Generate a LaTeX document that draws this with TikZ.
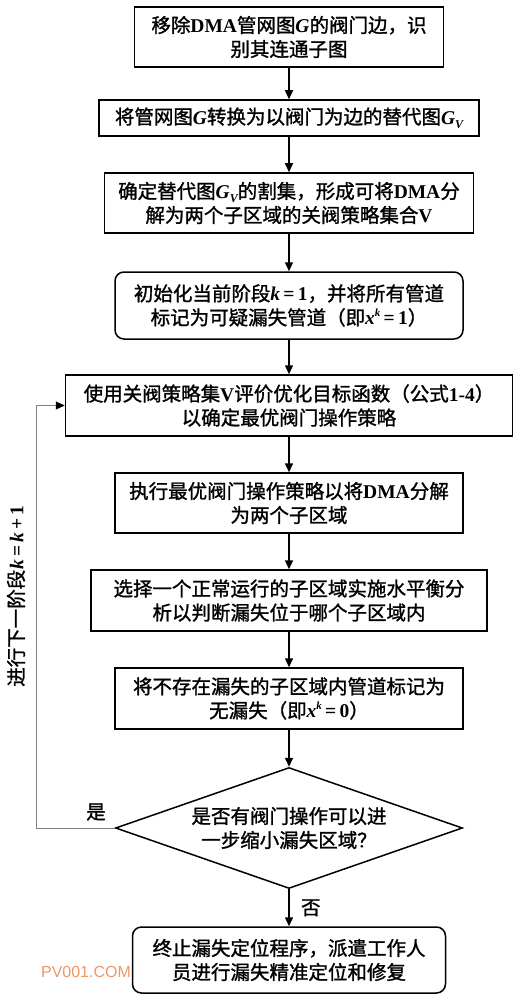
\documentclass[tikz,border=0pt]{standalone}
\usepackage{fontspec}
\newfontfamily\cjk[FakeBold=1.3]{Noto Sans CJK SC}
\newfontfamily\lat{Liberation Serif}
\newfontfamily\wmfont{Liberation Sans}
\newcommand\lt[1]{{\lat\bfseries #1}}
\newcommand\iv[1]{{\lat\bfseries\itshape #1}}
\newcommand\subv{\raisebox{-0.4ex}{\fontsize{12}{12}\selectfont\iv{V}}}
\newcommand\supk{\raisebox{0.75ex}{\fontsize{11}{11}\selectfont\iv{k}}}
\usetikzlibrary{shapes.geometric,arrows.meta}
\tikzset{
  txt/.style={font={\cjk\fontsize{19.5}{24}\selectfont}},
  box/.style={txt, draw, line width=1.5pt, inner sep=0pt, align=center},
  rbox/.style={box, rounded corners=9pt},
  dec/.style={txt, draw, line width=1.5pt, shape=diamond, aspect=2.87, inner sep=0pt, align=center, minimum width=347pt, minimum height=121pt},
  arr/.style={line width=1.5pt, -{Triangle[length=9pt,width=8pt]}},
  fb/.style={line width=1pt, draw=black!50, -{Triangle[length=9pt,width=8pt,color=black]}},
}
\begin{document}
\begin{tikzpicture}[x=1pt,y=-1pt]
\useasboundingbox (0,0) rectangle (517,1000);
\node[box, minimum width=309pt, minimum height=60pt] (b1) at (289,37) {移除\lt{DMA}管网图\iv{G}的阀门边，识\\别其连通子图};
\node[box, minimum width=380pt, minimum height=36pt] (b2) at (289,118) {将管网图\iv{G}转换为以阀门为边的替代图\iv{G}\subv};
\node[box, minimum width=369pt, minimum height=60pt] (b3) at (289,203) {确定替代图\iv{G}\subv 的割集，形成可将\lt{DMA}分\\解为两个子区域的关阀策略集合\lt{V}};
\node[rbox, minimum width=348pt, minimum height=67pt] (b4) at (289,305.5) {初始化当前阶段\iv{k}\lt{\,=\,1}，并将所有管道\\标记为可疑漏失管道（即\iv{x}\supk\lt{\,=\,1}）};
\node[box, minimum width=447pt, minimum height=61pt] (b5) at (289,405.5) {使用关阀策略集\lt{V}评价优化目标函数（公式\lt{1-4}）\\以确定最优阀门操作策略};
\node[box, minimum width=348pt, minimum height=60pt] (b6) at (289,503) {执行最优阀门操作策略以将\lt{DMA}分解\\为两个子区域};
\node[box, minimum width=396pt, minimum height=61pt] (b7) at (289,600.5) {选择一个正常运行的子区域实施水平衡分\\析以判断漏失位于哪个子区域内};
\node[box, minimum width=348pt, minimum height=61pt] (b8) at (289,698.5) {将不存在漏失的子区域内管道标记为\\无漏失（即\iv{x}\supk\lt{\,=\,0}）};
\node[dec] (d) at (289,828) {是否有阀门操作可以进\\一步缩小漏失区域？};
\node[rbox, minimum width=313pt, minimum height=66pt] (b9) at (289,960) {终止漏失定位程序，派遣工作人\\员进行漏失精准定位和修复};

\draw[arr] (b1) -- (b2);
\draw[arr] (b2) -- (b3);
\draw[arr] (b3) -- (b4);
\draw[arr] (b4) -- (b5);
\draw[arr] (b5) -- (b6);
\draw[arr] (b6) -- (b7);
\draw[arr] (b7) -- (b8);
\draw[arr] (b8) -- (d);
\draw[arr] (d) -- node[txt, anchor=west, xshift=8pt] (no) {否} (b9);

\coordinate (c1) at (36,828);
\draw[fb] (d.west) -- (c1) |- (b5.west);
\node[txt] (yes) at (96,812) {是};
\node[txt, rotate=90] (lbl) at (16,596) {进行下一阶段\iv{k}\lt{\,=\,}\iv{k}\lt{\,+\,1}};

\node[font={\wmfont\fontsize{16}{16}\selectfont}, text={rgb,255:red,238;green,150;blue,100}] (wm) at (86,972) {PV001.COM};
\end{tikzpicture}
\end{document}
